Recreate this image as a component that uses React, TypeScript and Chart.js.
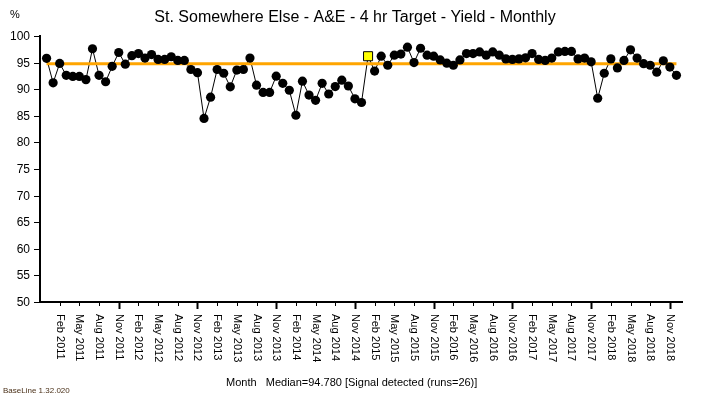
import React, { useEffect, useRef } from "react";
import { Chart, registerables } from "chart.js";
Chart.register(...registerables);

const chartTitle = "St. Somewhere Else - A&E - 4 hr Target - Yield - Monthly";
const yUnit = "%";
const footerText = "Month   Median=94.780 [Signal detected (runs=26)]";
const versionText = "BaseLine 1.32.020";

// Monthly yield, Dec 2010 .. Dec 2018
const yields = [
  95.8, 91.2, 94.85, 92.6, 92.4, 92.4, 91.8, 97.6, 92.6, 91.4,
  94.3, 96.9, 94.7, 96.3, 96.7, 95.85, 96.5, 95.6, 95.6, 96.1,
  95.4, 95.4, 93.7, 93.1, 84.5, 88.5, 93.7, 93.0, 90.45, 93.6,
  93.7, 95.85, 90.75, 89.4, 89.4, 92.45, 91.1, 89.8, 85.1, 91.5,
  88.9, 87.9, 91.1, 89.1, 90.5, 91.7, 90.6, 88.2, 87.5, 96.2,
  93.4, 96.2, 94.5, 96.4, 96.6, 97.9, 95.0, 97.7, 96.4, 96.2,
  95.5, 94.9, 94.5, 95.5, 96.7, 96.7, 97.0, 96.4, 97.0, 96.4,
  95.7, 95.6, 95.7, 95.9, 96.7, 95.6, 95.4, 95.85, 97.0, 97.1,
  97.1, 95.7, 95.85, 95.15, 88.3, 93.0, 95.7, 94.0, 95.4, 97.4,
  95.85, 94.8, 94.5, 93.2, 95.35, 94.15, 92.6,
];
const signalIndices = [49];
const median = 94.78;

const tickLabels = [
  "Feb 2011", "May 2011", "Aug 2011", "Nov 2011",
  "Feb 2012", "May 2012", "Aug 2012", "Nov 2012",
  "Feb 2013", "May 2013", "Aug 2013", "Nov 2013",
  "Feb 2014", "May 2014", "Aug 2014", "Nov 2014",
  "Feb 2015", "May 2015", "Aug 2015", "Nov 2015",
  "Feb 2016", "May 2016", "Aug 2016", "Nov 2016",
  "Feb 2017", "May 2017", "Aug 2017", "Nov 2017",
  "Feb 2018", "May 2018", "Aug 2018", "Nov 2018",
];
const firstTickIndex = 2;
const tickStep = 3;
const yTicks = [50, 55, 60, 65, 70, 75, 80, 85, 90, 95, 100];

const FONT = "'Liberation Sans', Arial, sans-serif";

const decorPlugin = {
  id: "decor",
  afterDraw(chart: any) {
    const ctx = chart.ctx as CanvasRenderingContext2D;
    const xs = chart.scales.x;
    const ys = chart.scales.y;
    const area = chart.chartArea;
    ctx.save();
    ctx.fillStyle = "#000";
    ctx.strokeStyle = "#000";

    // title
    ctx.font = `16px ${FONT}`;
    ctx.textAlign = "center";
    ctx.textBaseline = "middle";
    ctx.fillText(chartTitle, 355, 18);

    // unit
    ctx.font = `11px ${FONT}`;
    ctx.textAlign = "left";
    ctx.fillText(yUnit, 10, 15);

    // axes
    ctx.lineWidth = 2;
    ctx.beginPath();
    ctx.moveTo(area.left, area.top - 1);
    ctx.lineTo(area.left, area.bottom);
    ctx.lineTo(area.right, area.bottom);
    ctx.stroke();

    // y ticks and labels
    ctx.font = `12px ${FONT}`;
    ctx.textAlign = "right";
    ctx.textBaseline = "middle";
    ctx.lineWidth = 1;
    for (const v of yTicks) {
      const py = Math.round(ys.getPixelForValue(v)) + 0.5;
      ctx.beginPath();
      ctx.moveTo(area.left - 6, py);
      ctx.lineTo(area.left, py);
      ctx.stroke();
      ctx.fillText(String(v), 30, py);
    }

    // x ticks and labels
    ctx.font = `11px ${FONT}`;
    tickLabels.forEach((lab, i) => {
      const idx = firstTickIndex + i * tickStep;
      const px = Math.round(xs.getPixelForValue(idx)) + 0.5;
      const major = lab.startsWith("Nov");
      ctx.lineWidth = major ? 2 : 1;
      ctx.beginPath();
      ctx.moveTo(px, area.bottom);
      ctx.lineTo(px, area.bottom + (major ? 7 : 4));
      ctx.stroke();
      ctx.save();
      ctx.translate(px, area.bottom + 12);
      ctx.rotate(Math.PI / 2);
      ctx.textAlign = "left";
      ctx.textBaseline = "middle";
      ctx.fillText(lab, 0, 0);
      ctx.restore();
    });

    // footer
    ctx.font = `11px ${FONT}`;
    ctx.textAlign = "left";
    ctx.textBaseline = "middle";
    ctx.fillText(footerText, 226, 383);

    ctx.font = `8px ${FONT}`;
    ctx.fillStyle = "#4a3018";
    ctx.fillText(versionText, 3, 391);
    ctx.restore();
  },
};

export default function App() {
  const ref = useRef<HTMLCanvasElement>(null);
  useEffect(() => {
    if (!ref.current) return;
    const pts = yields.map((v, i) => ({ x: i, y: v }));
    const isSignal = (i: number) => signalIndices.includes(i);
    const chart = new Chart(ref.current, {
      type: "line",
      data: {
        datasets: [
          {
            label: "points",
            data: pts,
            showLine: false,
            order: 0,
            pointRadius: yields.map((_, i) => (isSignal(i) ? 6.4 : 4.6)),
            pointStyle: yields.map((_, i) => (isSignal(i) ? "rect" : "circle")) as any,
            pointBackgroundColor: yields.map((_, i) => (isSignal(i) ? "#ffff00" : "#000")),
            pointBorderColor: "#000",
            pointBorderWidth: yields.map((_, i) => (isSignal(i) ? 1 : 0)),
          },
          {
            label: "median",
            data: [
              { x: 0, y: median },
              { x: yields.length - 1, y: median },
            ],
            borderColor: "#ffa500",
            borderWidth: 3,
            pointRadius: 0,
            order: 1,
          },
          {
            label: "line",
            data: pts,
            borderColor: "#000",
            borderWidth: 1,
            pointRadius: 0,
            tension: 0,
            order: 2,
          },
        ],
      },
      options: {
        responsive: false,
        animation: false,
        devicePixelRatio: 1,
        layout: { padding: { left: 40, top: 36, right: 21, bottom: 97 } },
        plugins: { legend: { display: false }, tooltip: { enabled: false } },
        scales: {
          x: { type: "linear", min: -1, max: 97, display: false },
          y: { min: 50, max: 100, display: false },
        },
      },
      plugins: [decorPlugin],
    });
    return () => chart.destroy();
  }, []);
  return (
    <div style={{ position: "fixed", left: 0, top: 0, width: 704, height: 399, background: "#fff" }}>
      <canvas ref={ref} width={704} height={399} />
    </div>
  );
}
